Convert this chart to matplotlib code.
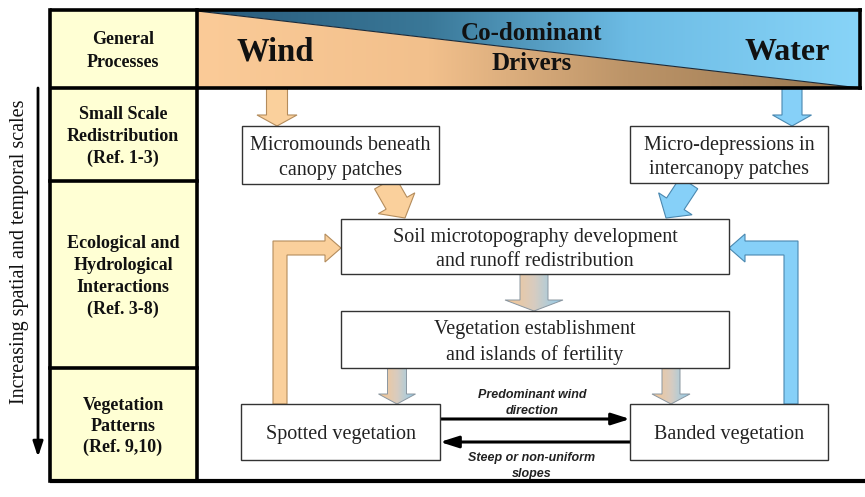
import numpy as np
import matplotlib
matplotlib.use("Agg")
import matplotlib.pyplot as plt
from matplotlib.patches import Polygon, Rectangle
from matplotlib.colors import LinearSegmentedColormap

# ---- text content ----
row_labels = ["General\nProcesses",
              "Small Scale\nRedistribution\n(Ref. 1-3)",
              "Ecological and\nHydrological\nInteractions\n(Ref. 3-8)",
              "Vegetation\nPatterns\n(Ref. 9,10)"]
driver_labels = ["Wind", "Co-dominant", "Drivers", "Water"]
box_labels = ["Micromounds beneath\ncanopy patches",
              "Micro-depressions in\nintercanopy patches",
              "Soil microtopography development\nand runoff redistribution",
              "Vegetation establishment\nand islands of fertility",
              "Spotted vegetation",
              "Banded vegetation"]
arrow_labels = ["Predominant wind\ndirection", "Steep or non-uniform\nslopes"]
axis_label = "Increasing spatial and temporal scales"

SERIF = "Liberation Serif"
SANS = "Liberation Sans"
WIND = "#FAD09C"
WIND_EDGE = "#B48C5C"
WATER = "#86D0F8"
WATER_EDGE = "#4A88B0"
YELLOW = "#FFFFD4"

fig = plt.figure(figsize=(8.65, 4.97), dpi=100)
ax = fig.add_axes([0, 0, 1, 1])
ax.set_xlim(0, 865)
ax.set_ylim(497, 0)
ax.axis("off")


def gradient(poly_pts, x0, x1, y0, y1, stops, z=2, vertical=False):
    cmap = LinearSegmentedColormap.from_list("g", stops)
    clip = Polygon(poly_pts, closed=True, facecolor="none", edgecolor="none")
    ax.add_patch(clip)
    arr = np.linspace(0, 1, 256)
    arr = arr[:, None] if vertical else arr[None, :]
    im = ax.imshow(arr, cmap=cmap, extent=(x0, x1, y1, y0), origin="upper",
                   aspect="auto", interpolation="bilinear", zorder=z)
    im.set_clip_path(clip)
    ax.set_xlim(0, 865)
    ax.set_ylim(497, 0)


def arrow_poly(x0, y0, x1, y1, sw, hw, hl):
    d = np.array([x1 - x0, y1 - y0], float)
    L = np.hypot(*d)
    d /= L
    n = np.array([-d[1], d[0]])
    p0 = np.array([x0, y0], float)
    tip = np.array([x1, y1], float)
    hb = tip - d * hl
    pts = [p0 + n * sw / 2, hb + n * sw / 2, hb + n * hw / 2, tip,
           hb - n * hw / 2, hb - n * sw / 2, p0 - n * sw / 2]
    return np.array(pts)


# ---- header gradient ----
HX0, HX1, HY0, HY1 = 197, 860, 11, 88
upper = [(HX0, HY0), (HX1, HY0), (HX1, HY1)]
lower = [(HX0, HY0), (HX0, HY1), (HX1, HY1)]
gradient(upper, HX0, HX1, HY0, HY1,
         [(0, "#285A7A"), (0.35, "#3A7898"), (0.65, "#6CBBE4"), (1, "#88D4F8")], z=1)
gradient(lower, HX0, HX1, HY0, HY1,
         [(0, "#FBCB98"), (0.35, "#F2C08C"), (0.65, "#BC9468"), (1, "#98764F")], z=1)
ax.plot([HX0, HX1], [HY0, HY1], color="#1A2A3A", lw=0.8, zorder=2)

# ---- left column ----
rows = [(10, 88), (88, 181), (181, 368), (368, 481)]
spacings = [1.5, 1.35, 1.35, 1.3]
for (ya, yb), lab, ls in zip(rows, row_labels, spacings):
    ax.add_patch(Rectangle((50, ya), 147, yb - ya, facecolor=YELLOW,
                           edgecolor="none", zorder=1))
    ax.text(123, (ya + yb) / 2 + 2, lab, ha="center", va="center",
            family=SERIF, weight="bold", fontsize=13, linespacing=ls,
            color="#111111", zorder=5)

# ---- frame lines ----
LW = 2.6
ax.plot([50, 862], [10, 10], color="black", lw=LW, zorder=6, solid_capstyle="butt")
ax.plot([860, 860], [10, 88], color="black", lw=LW, zorder=6)
ax.plot([50, 862], [88, 88], color="black", lw=LW, zorder=6, solid_capstyle="butt")
ax.plot([50, 865], [481, 481], color="black", lw=3.0, zorder=6, solid_capstyle="butt")
ax.plot([50, 50], [10, 481], color="black", lw=LW, zorder=6)
ax.plot([197, 197], [10, 481], color="black", lw=LW, zorder=6)
for y in (181, 368):
    ax.plot([50, 197], [y, y], color="black", lw=LW, zorder=6)

# ---- header texts ----
ax.text(275, 52, driver_labels[0], ha="center", va="center", family=SERIF,
        weight="bold", fontsize=23.5, color="#111111", zorder=5)
ax.text(532, 33, driver_labels[1], ha="center", va="center", family=SERIF,
        weight="bold", fontsize=18, color="#111111", zorder=5)
ax.text(532, 63, driver_labels[2], ha="center", va="center", family=SERIF,
        weight="bold", fontsize=18, color="#111111", zorder=5)
ax.text(787, 53, driver_labels[3], ha="center", va="center", family=SERIF,
        weight="bold", fontsize=23, color="#111111", zorder=5)

# ---- vertical scale arrow ----
ax.annotate("", xy=(38, 457), xytext=(38, 88),
            arrowprops=dict(arrowstyle="-|>,head_length=0.9,head_width=0.3",
                            lw=2.0, color="black", shrinkA=0, shrinkB=0))
ax.text(20, 252, axis_label, rotation=90, ha="center", va="center",
        family=SERIF, fontsize=14.5, color="#111111")

# ---- boxes ----
boxes = [(242, 126, 439, 184), (630, 126, 828, 183), (341, 219, 729, 274),
         (341, 311, 729, 368), (241, 404, 440, 460), (630, 404, 828, 460)]
for (x0, y0, x1, y1), lab in zip(boxes, box_labels):
    ax.add_patch(Rectangle((x0, y0), x1 - x0, y1 - y0, facecolor="white",
                           edgecolor="#333333", lw=1.0, zorder=4))
    ax.text((x0 + x1) / 2, (y0 + y1) / 2 + 3, lab, ha="center", va="center",
            family=SERIF, fontsize=14.5, linespacing=1.38, color="#222222",
            zorder=5)

# ---- solid block arrows ----
def solid_arrow(pts, fc, ec):
    ax.add_patch(Polygon(pts, closed=True, facecolor=fc, edgecolor=ec,
                         lw=0.8, zorder=3))

solid_arrow(arrow_poly(277, 88, 277, 126, 21, 40, 11), WIND, WIND_EDGE)
solid_arrow(arrow_poly(792, 88, 792, 126, 20, 39, 11), WATER, WATER_EDGE)
solid_arrow(arrow_poly(385, 183, 405, 218, 24, 42, 17), WIND, WIND_EDGE)
solid_arrow(arrow_poly(689, 183, 666, 218, 21, 40, 17), WATER, WATER_EDGE)

# L-shaped feedback arrows
wind_fb = [(273, 404), (273, 241), (325, 241), (325, 234), (341, 248),
           (325, 262), (325, 255), (287, 255), (287, 404)]
solid_arrow(wind_fb, WIND, WIND_EDGE)
water_fb = [(798, 404), (798, 241), (745, 241), (745, 234), (729, 248),
            (745, 262), (745, 255), (784, 255), (784, 404)]
solid_arrow(water_fb, WATER, WATER_EDGE)

# gradient (mixed) arrows
mix = [(0, "#F8C690"), (0.5, "#D8CCC0"), (1, "#8ECCEE")]
for (xc, ya, yb, sw, hw, hl) in [(534, 274, 311, 28, 58, 11),
                                 (397, 368, 404, 19, 37, 10),
                                 (671, 368, 404, 18, 38, 10)]:
    pts = arrow_poly(xc, ya, xc, yb, sw, hw, hl)
    gradient(pts, xc - hw / 2, xc + hw / 2, ya, yb, mix, z=3)
    ax.add_patch(Polygon(pts, closed=True, facecolor="none",
                         edgecolor="#8A96A0", lw=0.7, zorder=3.5))

# ---- black horizontal arrows ----
ax.annotate("", xy=(630, 419), xytext=(440, 419),
            arrowprops=dict(arrowstyle="-|>,head_length=1.1,head_width=0.35",
                            lw=2.2, color="black", shrinkA=0, shrinkB=0))
ax.annotate("", xy=(440, 442), xytext=(630, 442),
            arrowprops=dict(arrowstyle="-|>,head_length=1.1,head_width=0.35",
                            lw=2.2, color="black", shrinkA=0, shrinkB=0))
ax.text(532, 403, arrow_labels[0], ha="center", va="center", family=SANS,
        style="italic", weight="bold", fontsize=9, linespacing=1.55,
        color="#222222")
ax.text(532, 466, arrow_labels[1], ha="center", va="center", family=SANS,
        style="italic", weight="bold", fontsize=9, linespacing=1.55,
        color="#222222")

fig.savefig("out.png", dpi=100, facecolor="white")
